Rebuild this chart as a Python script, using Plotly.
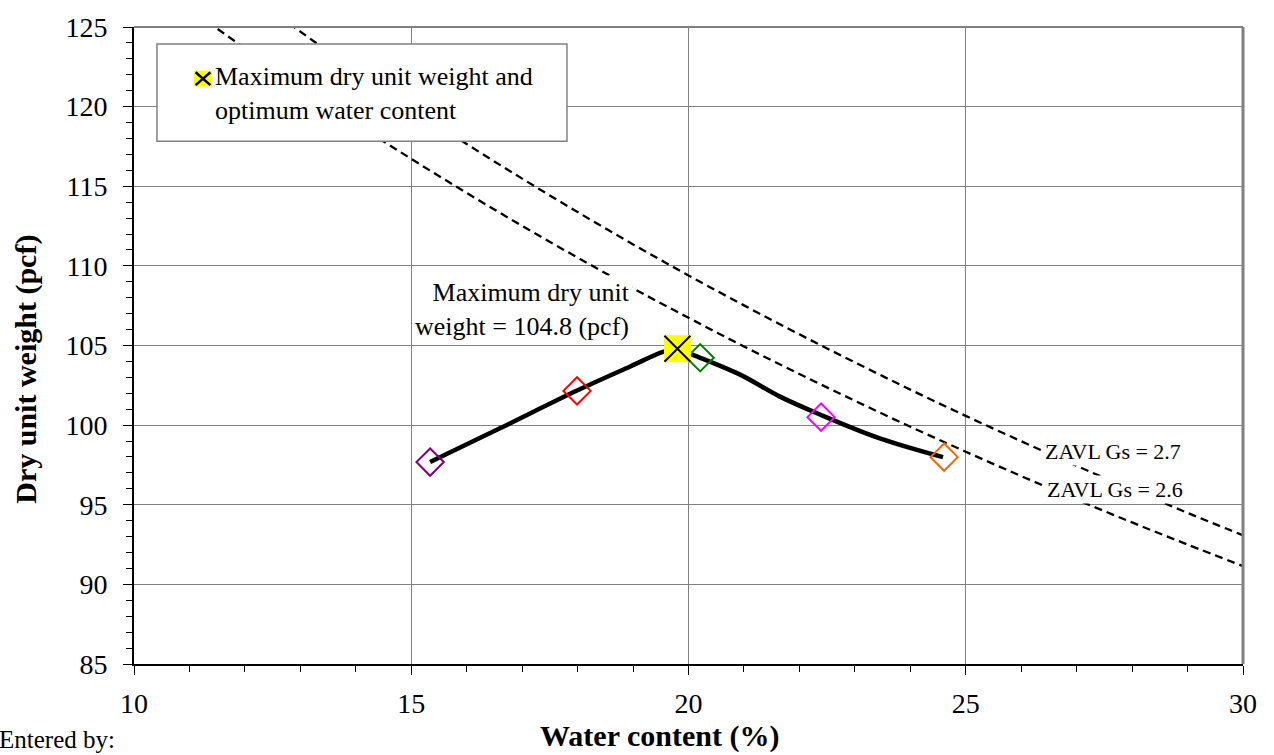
import plotly.graph_objects as go

# Compaction test points (water content %, dry unit weight pcf)
test_w = [15.34, 17.99, 20.21, 22.39, 24.61]
test_gd = [97.68, 102.15, 104.23, 100.50, 97.99]
test_colors = ["#800080", "#FF0000", "#008000", "#FF00FF", "#FF6600"]

# Fitted compaction curve
curve_w = [15.34, 16.60, 17.99, 18.94, 19.54, 19.80, 20.08, 20.93, 21.65, 22.37, 23.45, 24.59]
curve_gd = [97.68, 99.80, 102.17, 103.67, 104.60, 104.80, 104.41, 103.17, 101.79, 100.67, 99.17, 97.99]

# Maximum dry unit weight / optimum water content
opt_w = [19.8]
max_gd = [104.8]

# Zero air voids lines
zav_w = [10, 11, 12, 13, 14, 15, 16, 17, 18, 19, 20, 21, 22, 23, 24, 25, 26, 27, 28, 29, 30]
zav_gs27 = [132.66, 129.90, 127.25, 124.71, 122.26, 119.91, 117.65, 115.48, 113.38, 111.35,
            109.40, 107.52, 105.70, 103.94, 102.23, 100.58, 98.99, 97.44, 95.95, 94.49, 93.08]
zav_gs26 = [128.76, 126.16, 123.66, 121.26, 118.94, 116.72, 114.58, 112.51, 110.52, 108.59,
            106.74, 104.94, 103.21, 101.53, 99.90, 98.33, 96.80, 95.32, 93.89, 92.50, 91.15]

x_ticks = [10, 15, 20, 25, 30]
y_ticks = [85, 90, 95, 100, 105, 110, 115, 120, 125]

FONT = "Liberation Serif, Times New Roman, serif"

fig = go.Figure()

for gd in (zav_gs27, zav_gs26):
    fig.add_trace(go.Scatter(
        x=zav_w, y=gd, mode="lines", line_shape="spline",
        line=dict(color="black", width=2.3, dash="8px,5px"),
        showlegend=False, hoverinfo="skip"))

fig.add_trace(go.Scatter(
    x=curve_w, y=curve_gd, mode="lines", line_shape="spline",
    line=dict(color="black", width=4.5), showlegend=False))

fig.add_trace(go.Scatter(
    x=test_w, y=test_gd, mode="markers",
    marker=dict(symbol="diamond-open", size=21, color=test_colors,
                line=dict(width=2, color=test_colors)),
    showlegend=False))

fig.add_trace(go.Scatter(
    x=opt_w, y=max_gd, mode="markers",
    marker=dict(symbol="square", size=27, color="#FFFF00", line=dict(width=0)),
    showlegend=False))
fig.add_trace(go.Scatter(
    x=opt_w, y=max_gd, mode="markers",
    marker=dict(symbol="x-thin", size=26, color="black", line=dict(width=2, color="black")),
    showlegend=False))

axis_common = dict(
    showgrid=True, gridcolor="#808080", gridwidth=1, zeroline=False,
    showline=True, linecolor="black", linewidth=2,
    ticks="outside", ticklen=9, tickwidth=1, tickcolor="black",
    tickfont=dict(family=FONT, size=28, color="black"),
    minor=dict(dtick=1, ticks="outside", ticklen=6, tickwidth=1, tickcolor="black", showgrid=False),
)

fig.update_xaxes(range=[10, 30], tickvals=x_ticks, ticktext=[str(v) for v in x_ticks],
                 ticklabelstandoff=4, **axis_common)
fig.update_yaxes(range=[85, 125], tickvals=y_ticks, ticktext=[str(v) for v in y_ticks],
                 ticklabelstandoff=10, **axis_common)

shapes = [
    # top and right frame
    dict(type="line", xref="paper", yref="paper", x0=0, x1=1, y0=1, y1=1,
         line=dict(color="#808080", width=2), layer="above"),
    dict(type="line", xref="paper", yref="paper", x0=1, x1=1, y0=0, y1=1,
         line=dict(color="#808080", width=3), layer="above"),
    # legend box
    dict(type="rect", xref="paper", yref="paper", x0=0.0207, x1=0.3904, y0=0.8206, y1=0.9735,
         fillcolor="white", line=dict(color="#808080", width=1.5), layer="above"),
    # legend glyph
    dict(type="rect", xref="paper", yref="paper", x0=0.0541, x1=0.0703, y0=0.9064, y1=0.9314,
         fillcolor="#FFFF00", line=dict(width=0), layer="above"),
    dict(type="line", xref="paper", yref="paper", x0=0.0555, x1=0.0689, y0=0.9290, y1=0.9088,
         line=dict(color="black", width=2.5), layer="above"),
    dict(type="line", xref="paper", yref="paper", x0=0.0555, x1=0.0689, y0=0.9088, y1=0.9290,
         line=dict(color="black", width=2.5), layer="above"),
]

annotations = [
    dict(text="Maximum dry unit weight and<br>optimum water content",
         xref="paper", yref="paper", x=0.0712, y=0.8955, xanchor="left", yanchor="middle",
         align="left", showarrow=False, font=dict(family=FONT, size=26, color="black")),
    dict(text="Maximum dry unit<br>weight = %.1f (pcf)" % max_gd[0],
         xref="paper", yref="paper", x=0.450, y=0.557, xanchor="right", yanchor="middle",
         align="right", showarrow=False, bgcolor="white", borderpad=2,
         font=dict(family=FONT, size=26, color="black")),
    dict(text="ZAVL Gs = 2.7", xref="paper", yref="paper", x=0.8828, y=0.3339,
         xanchor="center", yanchor="middle", showarrow=False, bgcolor="white", borderpad=1,
         font=dict(family=FONT, size=22, color="black")),
    dict(text="ZAVL Gs = 2.6", xref="paper", yref="paper", x=0.8846, y=0.2746,
         xanchor="center", yanchor="middle", showarrow=False, bgcolor="white", borderpad=1,
         font=dict(family=FONT, size=22, color="black")),
    dict(text="<b>Dry unit weight (pcf)</b>", xref="paper", yref="paper", x=-0.0975, y=0.4633,
         xanchor="center", yanchor="middle", textangle=-90, showarrow=False,
         font=dict(family=FONT, size=30, color="black")),
    dict(text="<b>Water content (%)</b>", xref="paper", yref="paper", x=0.4743, y=-0.1412,
         xanchor="center", yanchor="bottom", showarrow=False, borderpad=0,
         font=dict(family=FONT, size=30, color="black")),
    dict(text="Entered by:", xref="paper", yref="paper", x=-0.1225, y=-0.1415,
         xanchor="left", yanchor="bottom", showarrow=False, borderpad=0,
         font=dict(family=FONT, size=25, color="black")),
]

fig.update_layout(
    width=1274, height=755,
    margin=dict(l=134, r=31, t=23, b=91),
    paper_bgcolor="white", plot_bgcolor="white",
    shapes=shapes, annotations=annotations,
    showlegend=False,
)

fig.write_html("out.html")
